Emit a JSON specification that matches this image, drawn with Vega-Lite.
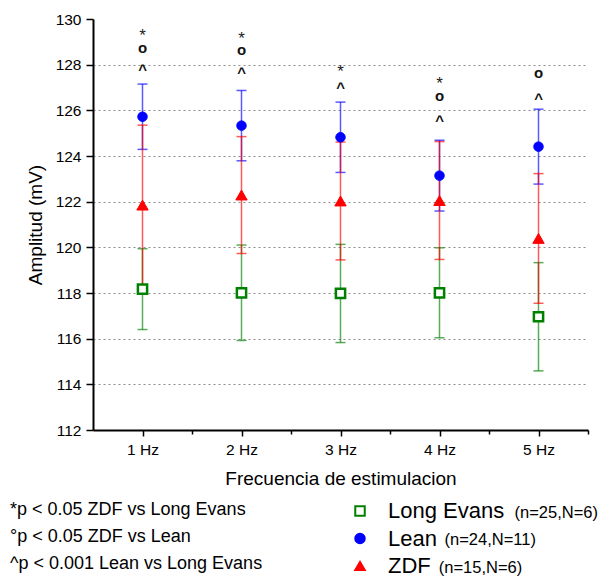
{
  "$schema": "https://vega.github.io/schema/vega-lite/v6.json",
  "width": 495,
  "height": 411,
  "autosize": {"type": "none"},
  "padding": {"left": 93, "top": 19, "right": 10, "bottom": 154},
  "background": "white",
  "config": {
    "view": {"stroke": null},
    "font": "Liberation Sans",
    "axis": {"labelFont": "Liberation Sans", "titleFont": "Liberation Sans", "labelColor": "black", "titleColor": "black", "domainColor": "black", "tickColor": "black", "titleFontWeight": "normal"},
    "legend": {"labelFont": "Liberation Sans", "labelColor": "black", "padding": 0, "labelLimit": 0}
  },
  "datasets": {
    "stats": [
      {"freq": 1, "group": "Long Evans", "sample": "(n=25,N=6)", "mean": 118.17, "sd": 1.77},
      {"freq": 2, "group": "Long Evans", "sample": "(n=25,N=6)", "mean": 118.01, "sd": 2.09},
      {"freq": 3, "group": "Long Evans", "sample": "(n=25,N=6)", "mean": 117.98, "sd": 2.15},
      {"freq": 4, "group": "Long Evans", "sample": "(n=25,N=6)", "mean": 118.01, "sd": 1.97},
      {"freq": 5, "group": "Long Evans", "sample": "(n=25,N=6)", "mean": 116.96, "sd": 2.37},
      {"freq": 1, "group": "Lean", "sample": "(n=24,N=11)", "mean": 125.72, "sd": 1.43},
      {"freq": 2, "group": "Lean", "sample": "(n=24,N=11)", "mean": 125.33, "sd": 1.54},
      {"freq": 3, "group": "Lean", "sample": "(n=24,N=11)", "mean": 124.82, "sd": 1.54},
      {"freq": 4, "group": "Lean", "sample": "(n=24,N=11)", "mean": 123.14, "sd": 1.55},
      {"freq": 5, "group": "Lean", "sample": "(n=24,N=11)", "mean": 124.41, "sd": 1.64},
      {"freq": 1, "group": "ZDF", "sample": "(n=15,N=6)", "mean": 121.85, "sd": 3.5},
      {"freq": 2, "group": "ZDF", "sample": "(n=15,N=6)", "mean": 122.29, "sd": 2.56},
      {"freq": 3, "group": "ZDF", "sample": "(n=15,N=6)", "mean": 122.03, "sd": 2.58},
      {"freq": 4, "group": "ZDF", "sample": "(n=15,N=6)", "mean": 122.05, "sd": 2.58},
      {"freq": 5, "group": "ZDF", "sample": "(n=15,N=6)", "mean": 120.39, "sd": 2.84}
    ],
    "annot": [
      {"freq": 1, "sym": "*", "pos": 129.37, "note": "*p < 0.05 ZDF vs Long Evans"},
      {"freq": 1, "sym": "o", "pos": 128.76, "note": "°p < 0.05 ZDF vs Lean"},
      {"freq": 1, "sym": "^", "pos": 127.91, "note": "^p < 0.001 Lean vs Long Evans"},
      {"freq": 2, "sym": "*", "pos": 129.23, "note": "*p < 0.05 ZDF vs Long Evans"},
      {"freq": 2, "sym": "o", "pos": 128.67, "note": "°p < 0.05 ZDF vs Lean"},
      {"freq": 2, "sym": "^", "pos": 127.77, "note": "^p < 0.001 Lean vs Long Evans"},
      {"freq": 3, "sym": "*", "pos": 127.81, "note": "*p < 0.05 ZDF vs Long Evans"},
      {"freq": 3, "sym": "^", "pos": 127.11, "note": "^p < 0.001 Lean vs Long Evans"},
      {"freq": 4, "sym": "*", "pos": 127.28, "note": "*p < 0.05 ZDF vs Long Evans"},
      {"freq": 4, "sym": "o", "pos": 126.64, "note": "°p < 0.05 ZDF vs Lean"},
      {"freq": 4, "sym": "^", "pos": 125.68, "note": "^p < 0.001 Lean vs Long Evans"},
      {"freq": 5, "sym": "o", "pos": 127.65, "note": "°p < 0.05 ZDF vs Lean"},
      {"freq": 5, "sym": "^", "pos": 126.67, "note": "^p < 0.001 Lean vs Long Evans"}
    ]
  },
  "encoding": {
    "x": {
      "field": "freq", "type": "quantitative", "title": "Frecuencia de estimulacion",
      "scale": {"domain": [0.5, 5.5], "nice": false, "zero": false},
      "axis": {
        "values": [1, 1.5, 2, 2.5, 3, 3.5, 4, 4.5, 5, 5.5],
        "labelExpr": "datum.value % 1 === 0 ? datum.value + ' Hz' : ''",
        "tickSize": {"condition": {"test": "datum.value % 1 !== 0", "value": 4}, "value": 6},
        "tickWidth": 1.5, "domainWidth": 2, "labelFontSize": 15.5, "labelPadding": 6,
        "labelOverlap": false, "labelFlush": false, "grid": false,
        "titleFontSize": 19, "titlePadding": 12
      }
    }
  },
  "layer": [
    {
      "data": {"name": "stats"},
      "transform": [{"filter": "datum.group === 'Long Evans'"}],
      "mark": {"type": "errorbar", "color": "#008000", "opacity": 0.65, "thickness": 1.5, "ticks": {"size": 10}},
      "encoding": {
        "y": {
          "field": "mean", "type": "quantitative", "title": "Amplitud (mV)",
          "scale": {"domain": [112, 130], "nice": false, "zero": false},
          "axis": {
            "values": [112, 113, 114, 115, 116, 117, 118, 119, 120, 121, 122, 123, 124, 125, 126, 127, 128, 129, 130],
            "labelExpr": "datum.value % 2 === 0 ? datum.label : ''",
            "tickSize": {"condition": {"test": "datum.value % 2 !== 0", "value": 4}, "value": 7},
            "tickWidth": 1.5, "domainWidth": 2, "labelFontSize": 15.5, "labelPadding": 5,
            "labelOverlap": false, "labelFlush": false,
            "grid": true, "gridDash": [2, 3], "gridColor": "#8c8c8c", "gridWidth": 1,
            "gridOpacity": {"condition": {"test": "datum.value % 2 !== 0 || datum.value <= 112 || datum.value >= 130", "value": 0}, "value": 1},
            "titleFontSize": 19, "titleX": -52, "titleBaseline": "alphabetic"
          }
        },
        "yError": {"field": "sd"}
      }
    },
    {
      "data": {"name": "stats"},
      "transform": [{"filter": "datum.group === 'Lean'"}],
      "mark": {"type": "errorbar", "color": "#0000ff", "opacity": 0.65, "thickness": 1.5, "ticks": {"size": 10}},
      "encoding": {
        "y": {"field": "mean", "type": "quantitative", "title": "Amplitud (mV)", "scale": {"domain": [112, 130], "nice": false, "zero": false}},
        "yError": {"field": "sd"}
      }
    },
    {
      "data": {"name": "stats"},
      "transform": [{"filter": "datum.group === 'ZDF'"}],
      "mark": {"type": "errorbar", "color": "#ff0000", "opacity": 0.65, "thickness": 1.5, "ticks": {"size": 10}},
      "encoding": {
        "y": {"field": "mean", "type": "quantitative", "title": "Amplitud (mV)", "scale": {"domain": [112, 130], "nice": false, "zero": false}},
        "yError": {"field": "sd"}
      }
    },
    {
      "data": {"name": "stats"},
      "transform": [{"filter": "datum.group === 'Long Evans'"}],
      "mark": {"type": "point", "size": 85, "strokeWidth": 2.5},
      "encoding": {
        "y": {"field": "mean", "type": "quantitative", "title": "Amplitud (mV)", "scale": {"domain": [112, 130], "nice": false, "zero": false}},
        "shape": {"field": "group", "type": "nominal", "scale": {"domain": ["Long Evans", "Lean", "ZDF"], "range": ["square", "circle", "triangle-up"]},
          "legend": {"title": null, "orient": "none", "legendX": 256, "legendY": 481, "labelFontSize": 22, "symbolSize": 90, "symbolStrokeWidth": 2, "symbolOpacity": 1, "labelOffset": 17, "rowPadding": 5.5}},
        "fill": {"field": "group", "type": "nominal", "scale": {"domain": ["Long Evans", "Lean", "ZDF"], "range": ["white", "#0000ff", "#ff0000"]}},
        "stroke": {"field": "group", "type": "nominal", "scale": {"domain": ["Long Evans", "Lean", "ZDF"], "range": ["#008000", "#0000ff", "#ff0000"]}},
        "opacity": {"field": "sample", "type": "ordinal", "scale": {"range": [1]},
          "legend": {"title": null, "orient": "none", "legendX": 405, "legendY": 485.5, "labelFontSize": 16.5, "symbolSize": 0, "symbolOpacity": 0, "labelOffset": 0}}
      }
    },
    {
      "data": {"name": "stats"},
      "transform": [{"filter": "datum.group === 'Lean'"}],
      "mark": {"type": "point", "size": 90, "strokeWidth": 1},
      "encoding": {
        "y": {"field": "mean", "type": "quantitative", "title": "Amplitud (mV)", "scale": {"domain": [112, 130], "nice": false, "zero": false}},
        "shape": {"field": "group", "type": "nominal", "scale": {"domain": ["Long Evans", "Lean", "ZDF"], "range": ["square", "circle", "triangle-up"]}},
        "fill": {"field": "group", "type": "nominal", "scale": {"domain": ["Long Evans", "Lean", "ZDF"], "range": ["white", "#0000ff", "#ff0000"]}},
        "stroke": {"field": "group", "type": "nominal", "scale": {"domain": ["Long Evans", "Lean", "ZDF"], "range": ["#008000", "#0000ff", "#ff0000"]}},
        "opacity": {"field": "sample", "type": "ordinal", "scale": {"range": [1]},
          "legend": {"title": null, "orient": "none", "legendX": 335, "legendY": 512.7, "labelFontSize": 16.5, "symbolSize": 0, "symbolOpacity": 0, "labelOffset": 0}}
      }
    },
    {
      "data": {"name": "stats"},
      "transform": [{"filter": "datum.group === 'ZDF'"}],
      "mark": {"type": "point", "size": 130, "strokeWidth": 1},
      "encoding": {
        "y": {"field": "mean", "type": "quantitative", "title": "Amplitud (mV)", "scale": {"domain": [112, 130], "nice": false, "zero": false}},
        "shape": {"field": "group", "type": "nominal", "scale": {"domain": ["Long Evans", "Lean", "ZDF"], "range": ["square", "circle", "triangle-up"]}},
        "fill": {"field": "group", "type": "nominal", "scale": {"domain": ["Long Evans", "Lean", "ZDF"], "range": ["white", "#0000ff", "#ff0000"]}},
        "stroke": {"field": "group", "type": "nominal", "scale": {"domain": ["Long Evans", "Lean", "ZDF"], "range": ["#008000", "#0000ff", "#ff0000"]}},
        "opacity": {"field": "sample", "type": "ordinal", "scale": {"range": [1]},
          "legend": {"title": null, "orient": "none", "legendX": 329.3, "legendY": 541, "labelFontSize": 16.5, "symbolSize": 0, "symbolOpacity": 0, "labelOffset": 0}}
      }
    },
    {
      "data": {"name": "annot"},
      "transform": [{"filter": "datum.sym === '*'"}],
      "mark": {"type": "text", "fontSize": 17, "baseline": "middle", "dy": 2.5},
      "encoding": {
        "y": {"field": "pos", "type": "quantitative", "title": "Amplitud (mV)", "scale": {"domain": [112, 130], "nice": false, "zero": false}},
        "text": {"field": "sym"},
        "color": {"field": "note", "type": "nominal",
          "scale": {"domain": ["*p < 0.05 ZDF vs Long Evans", "°p < 0.05 ZDF vs Lean", "^p < 0.001 Lean vs Long Evans"], "range": ["#222222", "#111111", "#111111"]},
          "legend": {"title": null, "orient": "none", "legendX": -101, "legendY": 481.6, "labelFontSize": 18, "symbolSize": 0, "symbolOpacity": 0, "labelOffset": 0, "rowPadding": 9}}
      }
    },
    {
      "data": {"name": "annot"},
      "transform": [{"filter": "datum.sym === 'o'"}],
      "mark": {"type": "text", "fontSize": 15, "fontWeight": "bold", "baseline": "middle", "dy": 0.5},
      "encoding": {
        "y": {"field": "pos", "type": "quantitative", "title": "Amplitud (mV)", "scale": {"domain": [112, 130], "nice": false, "zero": false}},
        "text": {"field": "sym"},
        "color": {"field": "note", "type": "nominal",
          "scale": {"domain": ["*p < 0.05 ZDF vs Long Evans", "°p < 0.05 ZDF vs Lean", "^p < 0.001 Lean vs Long Evans"], "range": ["#222222", "#111111", "#111111"]}}
      }
    },
    {
      "data": {"name": "annot"},
      "transform": [{"filter": "datum.sym === '^'"}],
      "mark": {"type": "text", "fontSize": 15, "fontWeight": "bold", "baseline": "middle", "dy": 3.5},
      "encoding": {
        "y": {"field": "pos", "type": "quantitative", "title": "Amplitud (mV)", "scale": {"domain": [112, 130], "nice": false, "zero": false}},
        "text": {"field": "sym"},
        "color": {"field": "note", "type": "nominal",
          "scale": {"domain": ["*p < 0.05 ZDF vs Long Evans", "°p < 0.05 ZDF vs Lean", "^p < 0.001 Lean vs Long Evans"], "range": ["#222222", "#111111", "#111111"]}}
      }
    }
  ],
  "resolve": {"scale": {"opacity": "independent"}, "legend": {"opacity": "independent"}}
}
